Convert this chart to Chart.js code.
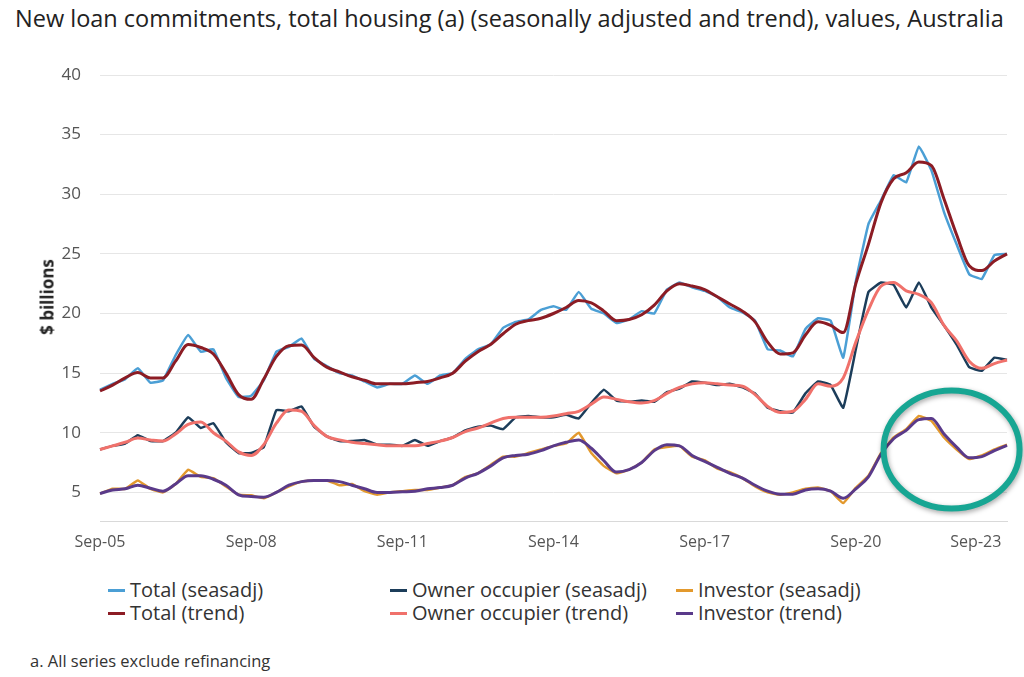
<!DOCTYPE html>
<html>
<head>
<meta charset="utf-8">
<script src="https://cdn.jsdelivr.net/npm/chart.js@4.4.0/dist/chart.umd.min.js"></script>
<style>
  body { margin: 0; background: #fff; font-family: "Open Sans", sans-serif; color: #222; }
  #wrap { position: relative; width: 1024px; height: 677px; overflow: hidden; }
  #title { position: absolute; left: 15px; top: 2px; font-size: 23.5px; white-space: nowrap; color: #222; }
  #ytitle { position: absolute; left: 47px; top: 297px; transform: translate(-50%, -50%) rotate(-90deg);
            font-weight: bold; font-size: 17px; white-space: nowrap; color: #222; }
  #cv { position: absolute; left: 0; top: 0; }
  .lgcol { position: absolute; top: 578px; font-size: 20px; color: #333; line-height: 23px; white-space: nowrap; }
  .lgcol .mk { display: inline-block; width: 17px; height: 3px; vertical-align: middle; margin-right: 5px; position: relative; top: -1px; }
  #note { position: absolute; left: 30px; top: 649px; font-size: 16.5px; color: #333; }
</style>
</head>
<body>
<div id="wrap">
  <div id="title">New loan commitments, total housing (a) (seasonally adjusted and trend), values, Australia</div>
  <canvas id="cv" width="1024" height="560"></canvas>
  <div id="ytitle">$ billions</div>
  <div id="legend"></div>
  <div id="note">a. All series exclude refinancing</div>
</div>
<script>
// quarterly points, Sep-05 to Sep-23
const labels = [
  "Sep-05","Dec-05",
  "Mar-06","Jun-06","Sep-06","Dec-06",
  "Mar-07","Jun-07","Sep-07","Dec-07",
  "Mar-08","Jun-08","Sep-08","Dec-08",
  "Mar-09","Jun-09","Sep-09","Dec-09",
  "Mar-10","Jun-10","Sep-10","Dec-10",
  "Mar-11","Jun-11","Sep-11","Dec-11",
  "Mar-12","Jun-12","Sep-12","Dec-12",
  "Mar-13","Jun-13","Sep-13","Dec-13",
  "Mar-14","Jun-14","Sep-14","Dec-14",
  "Mar-15","Jun-15","Sep-15","Dec-15",
  "Mar-16","Jun-16","Sep-16","Dec-16",
  "Mar-17","Jun-17","Sep-17","Dec-17",
  "Mar-18","Jun-18","Sep-18","Dec-18",
  "Mar-19","Jun-19","Sep-19","Dec-19",
  "Mar-20","Jun-20","Sep-20","Dec-20",
  "Mar-21","Jun-21","Sep-21","Dec-21",
  "Mar-22","Jun-22","Sep-22","Dec-22",
  "Mar-23","Jun-23","Sep-23"
];
const xTicks = ["Sep-05","Sep-08","Sep-11","Sep-14","Sep-17","Sep-20","Sep-23"];
const yTicks = [5, 10, 15, 20, 25, 30, 35, 40];

const totalSeas = [
  13.6, 14.1,
  14.5, 15.4, 14.2, 14.4,
  16.5, 18.2, 16.8, 17.0,
  14.6, 13.0, 13.1, 14.4,
  16.8, 17.2, 17.9, 16.2,
  15.6, 15.0, 14.8, 14.3,
  13.8, 14.1, 14.1, 14.8,
  14.1, 14.8, 15.0, 16.2,
  17.0, 17.4, 18.8, 19.3,
  19.5, 20.3, 20.6, 20.3,
  21.8, 20.4, 20.0, 19.2,
  19.5, 20.2, 20.0, 22.0,
  22.6, 22.2, 21.9, 21.4,
  20.5, 20.1, 19.4, 17.0,
  16.9, 16.4, 18.7, 19.6,
  19.4, 16.3, 22.7, 27.5,
  29.5, 31.6, 31.0, 34.0,
  32.0, 28.5, 25.8, 23.3,
  22.9, 24.9, 25.0
];
const totalTrend = [
  13.5, 14.0,
  14.6, 15.05, 14.6, 14.6,
  16.0, 17.4, 17.15, 16.6,
  15.0, 13.2, 12.8, 14.5,
  16.4, 17.3, 17.35, 16.3,
  15.5, 15.1, 14.7, 14.4,
  14.1, 14.1, 14.1, 14.2,
  14.3, 14.6, 15.0, 16.0,
  16.8, 17.4, 18.3, 19.1,
  19.4, 19.6, 20.0, 20.5,
  21.1, 20.9, 20.2, 19.4,
  19.5, 19.9, 20.7, 21.9,
  22.5, 22.3, 22.0, 21.4,
  20.8, 20.2, 19.3, 17.6,
  16.6, 16.7, 18.2, 19.3,
  19.0, 18.4, 22.5, 25.8,
  29.3, 31.3, 31.8, 32.7,
  32.4, 29.6, 26.6, 24.0,
  23.6, 24.4, 25.0
];
const ownerSeas = [
  8.6, 8.9,
  9.1, 9.8, 9.3, 9.3,
  10.0, 11.3, 10.4, 10.8,
  9.2, 8.3, 8.3, 8.8,
  11.9, 11.8, 12.2, 10.5,
  9.7, 9.3, 9.3, 9.4,
  9.0, 9.0, 8.9, 9.4,
  8.9, 9.3, 9.6, 10.2,
  10.5, 10.6, 10.3, 11.3,
  11.4, 11.3, 11.3, 11.5,
  11.2, 12.5, 13.6, 12.7,
  12.6, 12.7, 12.6, 13.4,
  13.7, 14.3, 14.2, 14.0,
  14.1, 13.8, 13.3, 12.1,
  11.8, 11.7, 13.3, 14.3,
  14.0, 12.1, 17.0, 21.8,
  22.6, 22.4, 20.5, 22.6,
  20.5, 19.0, 17.4, 15.5,
  15.2, 16.3, 16.1
];
const ownerTrend = [
  8.6, 8.9,
  9.2, 9.55, 9.4, 9.3,
  9.9, 10.7, 10.9, 10.0,
  9.3, 8.4, 8.1, 9.0,
  10.8, 11.9, 11.8, 10.6,
  9.7, 9.4, 9.2, 9.1,
  9.0, 8.9, 8.9, 8.9,
  9.1, 9.3, 9.6, 10.1,
  10.4, 10.8, 11.2, 11.3,
  11.3, 11.3, 11.4, 11.6,
  11.8, 12.4, 13.0, 12.8,
  12.6, 12.5, 12.7, 13.3,
  13.8, 14.1, 14.2, 14.1,
  14.0, 13.9, 13.2, 12.2,
  11.7, 11.8, 12.8, 14.1,
  13.9, 14.6, 17.6, 20.3,
  22.3, 22.6, 21.9, 21.6,
  20.9, 19.0, 17.7, 16.0,
  15.4, 15.8, 16.1
];
const investorSeas = [
  4.9, 5.3,
  5.3, 6.0, 5.3, 5.0,
  5.7, 6.9, 6.3, 6.2,
  5.5, 4.8, 4.75, 4.5,
  5.0, 5.5, 5.9, 6.0,
  6.0, 5.6, 5.7, 5.1,
  4.8, 5.0, 5.1, 5.2,
  5.2, 5.4, 5.6, 6.3,
  6.6, 7.3, 8.0, 8.0,
  8.3, 8.6, 8.9, 9.1,
  10.0, 8.3, 7.2, 6.6,
  6.9, 7.5, 8.6, 8.8,
  8.9, 8.0, 7.7, 7.0,
  6.7, 6.2, 5.5, 5.0,
  4.8, 5.0, 5.3, 5.4,
  5.1, 4.1, 5.4, 6.4,
  8.3, 9.6, 10.3, 11.4,
  11.0, 9.6, 8.6, 7.8,
  8.1, 8.6, 9.0
];
const investorTrend = [
  4.9, 5.2,
  5.3, 5.6, 5.35, 5.1,
  5.7, 6.4, 6.4, 6.1,
  5.6, 4.8, 4.65, 4.6,
  5.0, 5.6, 5.9, 6.0,
  6.0, 5.9, 5.6, 5.3,
  5.0, 5.0, 5.05, 5.1,
  5.3, 5.4, 5.6, 6.2,
  6.6, 7.2, 7.9, 8.1,
  8.2, 8.5, 8.9, 9.2,
  9.4, 8.7, 7.65, 6.7,
  6.9, 7.5, 8.5, 9.0,
  8.9, 8.1, 7.6, 7.1,
  6.6, 6.2, 5.6, 5.1,
  4.85, 4.85, 5.2, 5.3,
  5.1, 4.5, 5.3, 6.3,
  8.2, 9.5, 10.2, 11.1,
  11.2, 9.9, 8.8, 7.9,
  8.0, 8.5, 8.95
];

const colors = {
  totalSeas: "#4b9fd5", totalTrend: "#8c1c24",
  ownerSeas: "#1c3d5a", ownerTrend: "#f0716b",
  investorSeas: "#e3992d", investorTrend: "#5a3a8a"
};

function makeLine(label, data, color, trend) {
  return {
    label: label,
    data: data,
    borderColor: color,
    backgroundColor: color,
    borderWidth: trend ? 3 : 2.5,
    pointRadius: 0,
    fill: false,
    tension: trend ? 0.4 : 0.1,
    cubicInterpolationMode: trend ? "monotone" : "default"
  };
}

// trends first so they are drawn on top
const datasets = [
  makeLine("Total (trend)", totalTrend, colors.totalTrend, true),
  makeLine("Owner occupier (trend)", ownerTrend, colors.ownerTrend, true),
  makeLine("Investor (trend)", investorTrend, colors.investorTrend, true),
  makeLine("Total (seasadj)", totalSeas, colors.totalSeas, false),
  makeLine("Owner occupier (seasadj)", ownerSeas, colors.ownerSeas, false),
  makeLine("Investor (seasadj)", investorSeas, colors.investorSeas, false)
];

// highlight ring round the recent investor peak
const ringPlugin = {
  id: "ring",
  afterDatasetsDraw(chart) {
    const ctx = chart.ctx;
    const cx = chart.scales.x.getPixelForValue(67.6);
    const cy = chart.scales.y.getPixelForValue(8.6);
    ctx.save();
    ctx.shadowColor = "rgba(0,0,0,0.35)";
    ctx.shadowBlur = 5;
    ctx.shadowOffsetX = 1;
    ctx.shadowOffsetY = 2;
    ctx.strokeStyle = "#17a693";
    ctx.lineWidth = 6;
    ctx.beginPath();
    ctx.ellipse(cx, cy, 68, 59, 0, 0, Math.PI * 2);
    ctx.stroke();
    ctx.restore();
  }
};

new Chart(document.getElementById("cv").getContext("2d"), {
  type: "line",
  data: { labels: labels, datasets: datasets },
  plugins: [ringPlugin],
  options: {
    responsive: false,
    animation: false,
    devicePixelRatio: 1,
    layout: { autoPadding: false, padding: { top: 75, left: 0, right: 17, bottom: 0 } },
    plugins: { legend: { display: false }, tooltip: { enabled: false } },
    scales: {
      x: {
        grid: { display: false, drawTicks: false },
        border: { display: true, color: "#d9d9d9", width: 1 },
        afterFit: function(scale) {
          scale.height = 39;
          scale.paddingLeft = 0;
          scale.paddingRight = 0;
        },
        ticks: {
          autoSkip: false,
          maxRotation: 0,
          minRotation: 0,
          padding: 12,
          color: "#555",
          font: { family: "Open Sans", size: 16 },
          callback: function(val, idx) {
            const lab = labels[idx];
            if (xTicks.indexOf(lab) < 0) return "";
            // last label sits at the right edge; pad it so it stays on the canvas
            return idx === labels.length - 1 ? lab + "               " : lab;
          }
        }
      },
      y: {
        min: 2.6,
        max: 40,
        afterFit: function(scale) {
          scale.width = 100;
          scale.paddingTop = 0;
          scale.paddingBottom = 0;
        },
        afterBuildTicks: function(scale) { scale.ticks = yTicks.map(v => ({ value: v })); },
        grid: { color: "#e6e6e6", drawTicks: false },
        border: { display: false },
        ticks: {
          padding: 19,
          color: "#555",
          font: { family: "Open Sans", size: 17 }
        }
      }
    }
  }
});

// legend laid out in three columns, seasadj above trend
const legendCols = [
  { left: 108, items: [["Total (seasadj)", colors.totalSeas], ["Total (trend)", colors.totalTrend]] },
  { left: 390, items: [["Owner occupier (seasadj)", colors.ownerSeas], ["Owner occupier (trend)", colors.ownerTrend]] },
  { left: 676, items: [["Investor (seasadj)", colors.investorSeas], ["Investor (trend)", colors.investorTrend]] }
];
const legendEl = document.getElementById("legend");
legendCols.forEach(col => {
  const div = document.createElement("div");
  div.className = "lgcol";
  div.style.left = col.left + "px";
  div.innerHTML = col.items.map(it =>
    '<div><span class="mk" style="background:' + it[1] + '"></span>' + it[0] + '</div>').join("");
  legendEl.appendChild(div);
});
</script>
</body>
</html>
